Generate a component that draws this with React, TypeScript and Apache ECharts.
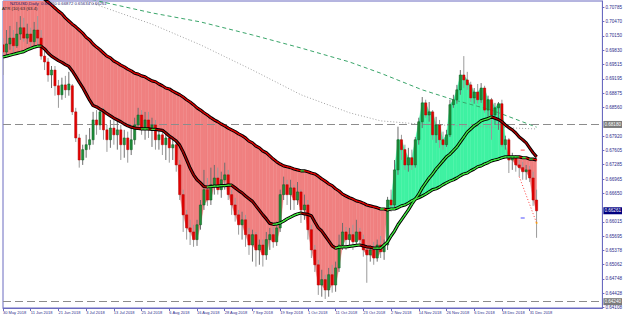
import React, { useEffect, useRef } from "react";
import * as echarts from "echarts";

// [open, close, low, high] per daily bar (NZDUSD, 30 May 2018 .. 3 Jan 2019)
const candles: [number, number, number, number][] = [
  [0.6995,0.6979,0.6928,0.7010],[0.6979,0.6997,0.6970,0.7028],[0.6997,0.7010,0.6984,0.7037],[0.7010,0.6993,0.6979,0.7028],
  [0.6993,0.7019,0.6988,0.7046],[0.7019,0.7033,0.7006,0.7059],[0.7033,0.7010,0.7002,0.7055],[0.7010,0.7019,0.6997,0.7042],
  [0.7019,0.7002,0.6990,0.7033],[0.7002,0.7028,0.6993,0.7046],[0.7028,0.7010,0.6995,0.7059],[0.7010,0.6970,0.6962,0.7028],
  [0.6970,0.6957,0.6939,0.6984],[0.6957,0.6928,0.6913,0.6966],[0.6928,0.6939,0.6899,0.6948],[0.6939,0.6904,0.6882,0.6948],
  [0.6904,0.6884,0.6855,0.6917],[0.6884,0.6906,0.6873,0.6922],[0.6906,0.6895,0.6877,0.6926],[0.6895,0.6908,0.6882,0.6935],
  [0.6904,0.6846,0.6839,0.6908],[0.6846,0.6788,0.6779,0.6855],[0.6788,0.6739,0.6722,0.6797],[0.6739,0.6762,0.6728,0.6773],
  [0.6762,0.6773,0.6744,0.6795],[0.6773,0.6784,0.6762,0.6810],[0.6784,0.6828,0.6773,0.6846],[0.6828,0.6817,0.6795,0.6850],
  [0.6817,0.6846,0.6806,0.6855],[0.6846,0.6806,0.6784,0.6855],[0.6806,0.6784,0.6757,0.6817],[0.6784,0.6810,0.6766,0.6828],
  [0.6810,0.6795,0.6773,0.6833],[0.6795,0.6806,0.6762,0.6824],[0.6806,0.6773,0.6739,0.6817],[0.6773,0.6788,0.6744,0.6806],
  [0.6788,0.6762,0.6733,0.6802],[0.6762,0.6784,0.6750,0.6810],[0.6784,0.6817,0.6773,0.6833],[0.6817,0.6839,0.6806,0.6855],
  [0.6839,0.6810,0.6795,0.6850],[0.6810,0.6828,0.6784,0.6846],[0.6828,0.6806,0.6788,0.6846],[0.6806,0.6817,0.6768,0.6833],
  [0.6817,0.6784,0.6762,0.6828],[0.6784,0.6795,0.6762,0.6810],[0.6795,0.6773,0.6750,0.6806],[0.6773,0.6788,0.6739,0.6802],
  [0.6788,0.6766,0.6733,0.6799],[0.6766,0.6773,0.6739,0.6788],[0.6773,0.6728,0.6713,0.6784],[0.6728,0.6662,0.6650,0.6739],
  [0.6662,0.6617,0.6579,0.6673],[0.6617,0.6588,0.6562,0.6628],[0.6588,0.6579,0.6550,0.6606],[0.6579,0.6562,0.6546,0.6595],
  [0.6562,0.6595,0.6548,0.6606],[0.6595,0.6639,0.6584,0.6650],[0.6639,0.6673,0.6628,0.6717],[0.6673,0.6650,0.6637,0.6699],
  [0.6650,0.6684,0.6639,0.6722],[0.6684,0.6699,0.6662,0.6728],[0.6699,0.6673,0.6662,0.6722],[0.6673,0.6695,0.6655,0.6713],
  [0.6695,0.6706,0.6673,0.6733],[0.6706,0.6662,0.6650,0.6717],[0.6662,0.6639,0.6617,0.6673],[0.6639,0.6617,0.6602,0.6655],
  [0.6617,0.6595,0.6573,0.6628],[0.6595,0.6606,0.6562,0.6624],[0.6606,0.6573,0.6546,0.6617],[0.6573,0.6550,0.6528,0.6588],
  [0.6550,0.6573,0.6513,0.6584],[0.6573,0.6539,0.6502,0.6579],[0.6539,0.6550,0.6506,0.6562],[0.6550,0.6528,0.6502,0.6562],
  [0.6528,0.6562,0.6517,0.6579],[0.6562,0.6573,0.6539,0.6588],[0.6573,0.6557,0.6544,0.6590],[0.6557,0.6588,0.6548,0.6602],
  [0.6588,0.6662,0.6579,0.6673],[0.6662,0.6684,0.6650,0.6702],[0.6684,0.6662,0.6639,0.6695],[0.6662,0.6677,0.6628,0.6695],
  [0.6677,0.6650,0.6628,0.6684],[0.6650,0.6668,0.6639,0.6690],[0.6668,0.6628,0.6599,0.6673],[0.6628,0.6639,0.6606,0.6662],
  [0.6639,0.6584,0.6562,0.6650],[0.6584,0.6539,0.6521,0.6595],[0.6539,0.6506,0.6490,0.6550],[0.6506,0.6461,0.6439,0.6517],
  [0.6461,0.6473,0.6435,0.6495],[0.6473,0.6450,0.6430,0.6484],[0.6450,0.6484,0.6435,0.6499],[0.6484,0.6461,0.6444,0.6506],
  [0.6461,0.6499,0.6446,0.6513],[0.6499,0.6550,0.6490,0.6573],[0.6550,0.6579,0.6539,0.6599],[0.6579,0.6562,0.6539,0.6590],
  [0.6562,0.6573,0.6544,0.6588],[0.6573,0.6557,0.6539,0.6595],[0.6557,0.6579,0.6550,0.6606],[0.6579,0.6562,0.6550,0.6588],
  [0.6562,0.6539,0.6524,0.6573],[0.6539,0.6528,0.6466,0.6550],[0.6528,0.6539,0.6513,0.6550],[0.6539,0.6521,0.6506,0.6557],
  [0.6521,0.6550,0.6513,0.6562],[0.6550,0.6535,0.6521,0.6570],[0.6535,0.6550,0.6517,0.6562],[0.6550,0.6650,0.6539,0.6657],
  [0.6650,0.6639,0.6624,0.6673],[0.6639,0.6717,0.6633,0.6739],[0.6717,0.6784,0.6706,0.6813],[0.6784,0.6762,0.6739,0.6795],
  [0.6762,0.6728,0.6717,0.6773],[0.6728,0.6744,0.6713,0.6766],[0.6744,0.6728,0.6717,0.6762],[0.6728,0.6784,0.6722,0.6790],
  [0.6784,0.6824,0.6773,0.6833],[0.6824,0.6866,0.6810,0.6879],[0.6866,0.6839,0.6833,0.6873],[0.6839,0.6846,0.6824,0.6868],
  [0.6846,0.6795,0.6784,0.6850],[0.6795,0.6817,0.6777,0.6835],[0.6817,0.6784,0.6766,0.6828],[0.6784,0.6773,0.6762,0.6802],
  [0.6773,0.6795,0.6768,0.6806],[0.6795,0.6862,0.6790,0.6873],[0.6862,0.6873,0.6855,0.6884],[0.6873,0.6895,0.6864,0.6906],
  [0.6895,0.6928,0.6884,0.6939],[0.6928,0.6917,0.6899,0.6970],[0.6917,0.6906,0.6895,0.6935],[0.6906,0.6877,0.6868,0.6913],
  [0.6877,0.6890,0.6864,0.6899],[0.6890,0.6873,0.6864,0.6908],[0.6873,0.6899,0.6866,0.6910],[0.6899,0.6850,0.6844,0.6904],
  [0.6850,0.6873,0.6828,0.6882],[0.6873,0.6839,0.6784,0.6877],[0.6839,0.6855,0.6817,0.6866],[0.6855,0.6864,0.6806,0.6868],
  [0.6864,0.6773,0.6768,0.6873],[0.6773,0.6784,0.6762,0.6793],[0.6784,0.6739,0.6710,0.6788],[0.6739,0.6744,0.6717,0.6755],
  [0.6744,0.6728,0.6713,0.6750],[0.6728,0.6722,0.6702,0.6739],[0.6722,0.6713,0.6695,0.6735],[0.6713,0.6717,0.6695,0.6728],
  [0.6717,0.6699,0.6690,0.6726],[0.6699,0.6650,0.6637,0.6713],[0.6650,0.6626,0.6566,0.6673],
];

// slow moving average (upper band in the down-trend)
const slowMA: number[] = [
  0.7179,0.7173,0.7166,0.7159,0.7153,0.7144,0.7137,0.7130,0.7124,0.7117,0.7110,0.7104,0.7097,0.7090,0.7084,0.7077,
  0.7070,0.7064,0.7055,0.7048,0.7041,0.7035,0.7028,0.7021,0.7012,0.7006,0.6997,0.6990,0.6984,0.6977,0.6970,0.6966,
  0.6959,0.6955,0.6950,0.6946,0.6941,0.6937,0.6932,0.6930,0.6926,0.6924,0.6919,0.6915,0.6913,0.6908,0.6904,0.6899,
  0.6897,0.6892,0.6888,0.6884,0.6879,0.6873,0.6868,0.6862,0.6855,0.6850,0.6844,0.6839,0.6833,0.6828,0.6824,0.6819,
  0.6815,0.6810,0.6806,0.6802,0.6797,0.6793,0.6788,0.6781,0.6777,0.6770,0.6766,0.6759,0.6755,0.6748,0.6741,0.6735,
  0.6730,0.6726,0.6724,0.6722,0.6719,0.6717,0.6715,0.6715,0.6713,0.6710,0.6708,0.6703,0.6697,0.6692,0.6686,0.6682,
  0.6675,0.6670,0.6663,0.6659,0.6655,0.6652,0.6648,0.6646,0.6643,0.6639,0.6637,0.6635,0.6633,0.6630,0.6630,0.6628,
  0.6630,0.6630,0.6633,0.6637,0.6639,0.6643,0.6648,0.6652,0.6655,0.6659,0.6663,0.6668,0.6673,0.6675,0.6679,0.6684,
  0.6688,0.6692,0.6695,0.6699,0.6704,0.6708,0.6710,0.6715,0.6719,0.6724,0.6726,0.6730,0.6733,0.6737,0.6739,0.6741,
  0.6744,0.6746,0.6746,0.6746,0.6746,0.6746,0.6744,0.6744,0.6741,0.6741,0.6739,
];

// fast moving average
const fastMA: number[] = [
  0.6968,0.6970,0.6972,0.6974,0.6976,0.6978,0.6980,0.6984,0.6987,0.6990,0.6992,0.6992,0.6986,0.6977,0.6970,0.6965,
  0.6960,0.6956,0.6951,0.6947,0.6937,0.6925,0.6912,0.6900,0.6886,0.6872,0.6860,0.6857,0.6852,0.6848,0.6842,0.6837,
  0.6832,0.6828,0.6824,0.6819,0.6815,0.6812,0.6810,0.6809,0.6808,0.6808,0.6808,0.6807,0.6807,0.6806,0.6805,0.6799,
  0.6792,0.6787,0.6781,0.6772,0.6757,0.6739,0.6721,0.6706,0.6695,0.6688,0.6680,0.6679,0.6680,0.6681,0.6681,0.6682,
  0.6682,0.6683,0.6683,0.6677,0.6671,0.6666,0.6659,0.6653,0.6647,0.6637,0.6627,0.6617,0.6608,0.6598,0.6596,0.6597,
  0.6599,0.6603,0.6608,0.6612,0.6616,0.6619,0.6621,0.6619,0.6618,0.6615,0.6601,0.6588,0.6581,0.6570,0.6559,0.6548,
  0.6543,0.6545,0.6546,0.6546,0.6547,0.6548,0.6549,0.6550,0.6548,0.6546,0.6545,0.6543,0.6543,0.6543,0.6550,0.6557,
  0.6570,0.6581,0.6595,0.6606,0.6617,0.6628,0.6641,0.6652,0.6663,0.6677,0.6688,0.6699,0.6708,0.6719,0.6728,0.6737,
  0.6746,0.6752,0.6760,0.6768,0.6779,0.6790,0.6801,0.6808,0.6815,0.6820,0.6826,0.6829,0.6831,0.6835,0.6832,0.6829,
  0.6824,0.6817,0.6811,0.6806,0.6799,0.6790,0.6784,0.6777,0.6766,0.6755,0.6746,
];

// long averages read at a few bars: [bar index, price]
const longMAGreen: [number, number][] = [
  [0, 0.7135],[26, 0.7095],[43, 0.7066],[57, 0.7046],[72, 0.7017],[86, 0.6988],[100, 0.6957],
  [109, 0.6932],[121, 0.6895],[130, 0.6873],[141, 0.6850],[154, 0.6812],
];
const longMAGray: [number, number][] = [
  [0, 0.7161],[23, 0.7095],[43, 0.7041],[57, 0.6995],[72, 0.6939],[86, 0.6884],[100, 0.6844],
  [109, 0.6826],[120, 0.6819],[132, 0.6815],[154, 0.6808],
];
const sarDots: [number, number][] = [[149, 0.6702],[154, 0.6599]];

const xTickLabels = [
  "30 May 2018","11 Jun 2018","21 Jun 2018","3 Jul 2018","13 Jul 2018","25 Jul 2018","6 Aug 2018",
  "16 Aug 2018","28 Aug 2018","7 Sep 2018","19 Sep 2018","1 Oct 2018","11 Oct 2018","23 Oct 2018",
  "2 Nov 2018","14 Nov 2018","26 Nov 2018","6 Dec 2018","18 Dec 2018","31 Dec 2018",
];
// price-scale labels that are visible (two more sit under the level boxes)
const yTickLabels = [
  "0.64108","0.64428","0.64748","0.65062","0.65378","0.65695","0.66015","0.66650","0.66965","0.67285",
  "0.67605","0.67920","0.68560","0.68875","0.69195","0.69515","0.69830","0.70150","0.70470","0.70785",
];
const hLevels = [0.6818, 0.6424];
const hLevelTexts = ["0.68180", "0.64240"];
const lastPrice = 0.66261;
const titleText = "NZDUSD,Daily  0.66520 0.66872 0.65634 0.66261";
const atrText = "ATR (10) 63 (63.4)";

const LABEL_STEP = 8;
const EMPTY_BARS = 19;
const Y_MIN = 0.64099;
const Y_MAX = 0.70925;

export default function App() {
  const ref = useRef<HTMLDivElement>(null);
  useEffect(() => {
    document.body.style.margin = "0";
    if (!ref.current) return;
    const chart = echarts.init(ref.current, null, { renderer: "svg" });
    const n = candles.length;
    const cats = Array.from({ length: n + EMPTY_BARS }, (_, i) => String(i));
    const font = "Liberation Sans";
    const yTickValues = yTickLabels.map((s) => parseFloat(s));

    // boundary of the coloured cloud (other side is slowMA)
    const edge = candles.map((c, i) => {
      if (i <= 50) return fastMA[i];
      return c[1] > slowMA[i] ? Math.max(c[0], c[1]) : Math.min(c[0], c[1]);
    });
    const cloudData = [];
    for (let i = 0; i < n - 1; i++) cloudData.push([i, slowMA[i], edge[i], slowMA[i + 1], edge[i + 1]]);

    const segData = (arr: number[]) => {
      const out = [];
      for (let i = 0; i < arr.length - 1; i++) out.push([i, arr[i], arr[i + 1]]);
      return out;
    };
    const segSeries = (arr: number[], downColor: string) => ({
      type: "custom",
      clip: true,
      z: 8,
      silent: true,
      data: segData(arr),
      renderItem: (params: any, api: any) => {
        const i = api.value(0);
        const a = api.value(1);
        const b = api.value(2);
        const p0 = api.coord([i, a]);
        const p1 = api.coord([i + 1, b]);
        return {
          type: "line",
          shape: { x1: p0[0], y1: p0[1], x2: p1[0], y2: p1[1] },
          style: { stroke: b >= a ? "#3ee83e" : downColor, lineWidth: 1.3, lineCap: "round" },
        };
      },
    });

    const RED = "#f08080";
    const GREEN = "#3ff2a2";

    chart.setOption({
      animation: false,
      grid: { left: 0, right: 21, top: 1, bottom: 11, show: true, borderColor: "#6a6ac0", borderWidth: 1, backgroundColor: "#ffffff" },
      xAxis: {
        type: "category",
        data: cats,
        boundaryGap: false,
        axisLine: { lineStyle: { color: "#6a6ac0", width: 1 } },
        axisTick: { show: true, length: 3, interval: (i: number) => i % LABEL_STEP === 0 && i < n, lineStyle: { color: "#6a6ac0" } },
        axisLabel: {
          interval: (i: number) => i % LABEL_STEP === 0 && i < n,
          formatter: (_v: string, i: number) => xTickLabels[i / LABEL_STEP] ?? "",
          align: "left",
          fontSize: 4,
          color: "#2c2c8c",
          fontFamily: font,
          margin: 2,
        },
        splitLine: { show: false },
      },
      yAxis: {
        type: "value",
        position: "right",
        min: Y_MIN,
        max: Y_MAX,
        splitLine: { show: false },
        axisLine: { show: true, lineStyle: { color: "#6a6ac0" } },
        axisTick: { show: true, length: 2, customValues: yTickValues, lineStyle: { color: "#6a6ac0" } },
        axisLabel: {
          customValues: yTickValues,
          formatter: (v: number) => v.toFixed(5),
          fontSize: 4.6,
          color: "#2c2c8c",
          fontFamily: font,
          margin: 3,
        },
      },
      graphic: [
        { type: "text", left: 10, top: 1, z: 100, style: { text: titleText, fontSize: 4.3, fill: "#1c1c6c", fontFamily: font } },
        { type: "text", left: 2, top: 6, z: 100, style: { text: atrText, fontSize: 4.3, fill: "#222222", fontFamily: font } },
      ],
      series: [
        {
          type: "custom",
          clip: true,
          z: 1,
          silent: true,
          data: cloudData,
          renderItem: (params: any, api: any) => {
            const i = api.value(0);
            const s0 = api.value(1), e0 = api.value(2), s1 = api.value(3), e1 = api.value(4);
            const A0 = api.coord([i, s0]), B0 = api.coord([i, e0]);
            const A1 = api.coord([i + 1, s1]), B1 = api.coord([i + 1, e1]);
            const d0 = e0 - s0, d1 = e1 - s1;
            const col = (d: number) => (d > 0 ? GREEN : RED);
            if (d0 * d1 >= 0) {
              return {
                type: "polygon",
                shape: { points: [A0, A1, B1, B0] },
                style: { fill: col(d0 !== 0 ? d0 : d1), stroke: col(d0 !== 0 ? d0 : d1), lineWidth: 0.4 },
              };
            }
            const t = d0 / (d0 - d1);
            const M = [A0[0] + t * (A1[0] - A0[0]), A0[1] + t * (A1[1] - A0[1])];
            return {
              type: "group",
              children: [
                { type: "polygon", shape: { points: [A0, M, B0] }, style: { fill: col(d0), stroke: col(d0), lineWidth: 0.4 } },
                { type: "polygon", shape: { points: [M, A1, B1] }, style: { fill: col(d1), stroke: col(d1), lineWidth: 0.4 } },
              ],
            };
          },
        },
        {
          type: "line",
          data: longMAGreen,
          symbol: "none",
          z: 3,
          silent: true,
          lineStyle: { color: "#3aa56a", width: 1, type: [4, 3] },
        },
        {
          type: "line",
          data: longMAGray,
          symbol: "none",
          z: 3,
          silent: true,
          lineStyle: { color: "#a0a0a0", width: 1, type: [1, 2] },
        },
        {
          type: "custom",
          clip: true,
          z: 5,
          silent: true,
          data: candles.map((c, i) => [i, c[0], c[1], c[2], c[3]]),
          encode: { x: 0, y: [1, 2, 3, 4] },
          renderItem: (params: any, api: any) => {
            const i = api.value(0);
            const o = api.value(1), c = api.value(2), l = api.value(3), h = api.value(4);
            const pH = api.coord([i, h]), pL = api.coord([i, l]);
            const pO = api.coord([i, o]), pC = api.coord([i, c]);
            const x = pO[0];
            const bull = c >= o;
            const bw = 2.2;
            const y1 = Math.min(pO[1], pC[1]);
            const y2 = Math.max(pO[1], pC[1]);
            return {
              type: "group",
              children: [
                { type: "line", shape: { x1: x, y1: pH[1], x2: x, y2: pL[1] }, style: { stroke: bull ? "#6e6e6e" : "#9a9a9a", lineWidth: 1 } },
                {
                  type: "rect",
                  shape: { x: x - bw / 2, y: y1, width: bw, height: Math.max(1, y2 - y1) },
                  style: { fill: bull ? "#1f8f3a" : "#e60000", stroke: bull ? "#0b5a1e" : "#b00000", lineWidth: 0.5 },
                },
              ],
            };
          },
        },
        {
          type: "line",
          data: slowMA,
          symbol: "none",
          z: 6,
          silent: true,
          lineStyle: { color: "#000000", width: 3.2 },
        },
        {
          type: "line",
          data: fastMA,
          symbol: "none",
          z: 6,
          silent: true,
          lineStyle: { color: "#000000", width: 3.2 },
        },
        segSeries(slowMA, "#e00000"),
        segSeries(fastMA, "#a80000"),
        {
          type: "line",
          data: sarDots,
          symbol: "none",
          z: 7,
          silent: true,
          lineStyle: { color: "#ff4040", width: 1, type: [1, 2] },
          markLine: {
            silent: true,
            symbol: "none",
            precision: 5,
            lineStyle: { color: "#8c8c8c", width: 1, type: [8, 4] },
            label: {
              position: "end",
              distance: 1,
              formatter: (p: any) => hLevelTexts[hLevels.indexOf(p.value)] ?? "",
              backgroundColor: "#7a7a7a",
              color: "#ffffff",
              fontSize: 4.6,
              fontFamily: font,
              padding: [1, 1],
            },
            data: [
              ...hLevels.map((v) => ({ yAxis: v })),
              {
                yAxis: lastPrice,
                lineStyle: { color: "rgba(0,0,0,0)", width: 0 },
                label: { backgroundColor: "#000080", color: "#ffffff", formatter: "0.66261" },
              },
            ],
          },
        },
        {
          type: "scatter",
          z: 9,
          silent: true,
          symbol: "rect",
          symbolSize: [4, 1],
          data: [
            { value: [150, 0.6761], itemStyle: { color: "#ff2020" } },
            { value: [150, 0.6610], itemStyle: { color: "#2020ff" } },
          ],
        },
        {
          type: "scatter",
          z: 9,
          silent: true,
          symbol: "circle",
          symbolSize: 2,
          itemStyle: { color: "#ffa000" },
          data: [[154, 0.6599]],
        },
      ],
    });
    return () => chart.dispose();
  }, []);
  return <div ref={ref} style={{ width: 625, height: 319 }} />;
}
